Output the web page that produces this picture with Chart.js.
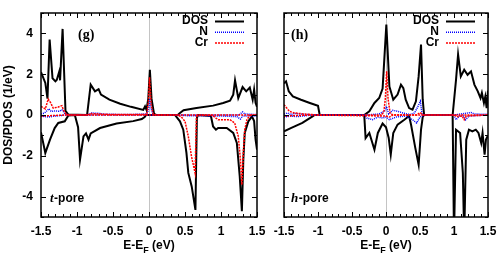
<!DOCTYPE html>
<html>
<head>
<meta charset="utf-8">
<script src="https://cdn.jsdelivr.net/npm/chart.js@4.4.0/dist/chart.umd.min.js"></script>
<style>
  body { margin: 0; background: #fff; }
  #wrap { position: relative; width: 498px; height: 264px; }
  canvas { position: absolute; top: 0; }
</style>
</head>
<body>
<div id="wrap">
  <canvas id="cg" width="276" height="264" style="left:0"></canvas>
  <canvas id="ch" width="236" height="264" style="left:262px"></canvas>
</div>
<script>
// tick labels
const xTicks = [-1.5, -1, -0.5, 0, 0.5, 1, 1.5];
const yTicks = [-4, -2, 0, 2, 4];

// (g) t-pore : [E-EF, DOS] pairs, spin up (positive) / spin down (negative)
const gDosUp = [[-1.5, 2.1], [-1.44, 1.57], [-1.41, 0.8], [-1.38, 3.7], [-1.34, 1.8], [-1.3, 1.65], [-1.28, 1.73],
  [-1.245, 2.15], [-1.235, 1.7], [-1.2, 4.22], [-1.16, 0.2], [-1.12, 0.02], [-0.86, 0], [-0.81, 1.49], [-0.75, 1.16],
  [-0.70, 1.27], [-0.667, 1.0], [-0.55, 0.75], [-0.4, 0.55], [-0.25, 0.4], [-0.08, 0.25], [-0.055, 0.42], [-0.035, 0.25],
  [-0.01, 0.8], [0.012, 2.22], [0.035, 0.8], [0.07, 0.05], [0.1, 0], [0.4, 0], [0.43, 0.1], [0.48, 0.23], [0.66, 0.34],
  [0.89, 0.46], [1.03, 0.59], [1.125, 0.7], [1.17, 1.0], [1.195, 1.7], [1.24, 0.83], [1.30, 1.37], [1.35, 1.16],
  [1.40, 1.35], [1.44, 0.75], [1.46, 1.24], [1.48, 0.6], [1.5, 0.4]];
const gDosDn = [[-1.5, -0.85], [-1.44, -1.86], [-1.375, -1.21], [-1.31, -0.64], [-1.26, -0.39], [-1.17, -0.31],
  [-1.12, -0.02], [-1.03, 0], [-0.985, -0.6], [-0.958, -2.19], [-0.91, -1.05], [-0.875, -0.9], [-0.84, -1.21],
  [-0.81, -0.9], [-0.68, -0.64], [-0.45, -0.42], [-0.22, -0.3], [-0.1, -0.2], [-0.06, -0.1], [-0.04, 0], [0.36, 0],
  [0.43, -0.31], [0.476, -0.72], [0.52, -1.86], [0.546, -2.84], [0.593, -3.5], [0.645, -4.65], [0.665, -0.15],
  [0.68, 0], [0.86, -0.05], [0.89, -0.56], [0.93, -0.72], [0.96, -0.64], [1.08, -0.64], [1.17, -0.88], [1.22, -1.37],
  [1.26, -3.0], [1.29, -4.72], [1.31, -2.19], [1.33, -0.88], [1.38, -0.31], [1.43, -0.07], [1.46, -0.3], [1.48, -1.2],
  [1.5, -1.7]];
const gNUp = [[-1.5, 0.05], [-1.45, 0.1], [-1.39, 0.3], [-1.36, 0.18], [-1.3, 0.2], [-1.25, 0.18], [-1.21, 0.25],
  [-1.17, 0.08], [-1.12, 0], [-0.86, 0], [-0.8, 0.1], [-0.7, 0.08], [-0.6, 0.04], [-0.3, 0.02], [-0.03, 0.05],
  [-0.005, 0.3], [0.012, 0.8], [0.03, 0.3], [0.06, 0], [1.25, 0], [1.3, 0.15], [1.33, 0.05], [1.5, 0.02]];
const gNDn = [[-1.5, -0.05], [-1.4, -0.1], [-1.3, -0.05], [-1.15, 0], [0.4, 0], [0.5, -0.03], [1.0, -0.05],
  [1.22, -0.08], [1.27, -0.2], [1.3, -0.05], [1.5, -0.05]];
const gCrUp = [[-1.5, 0.42], [-1.44, 0.3], [-1.4, 0.78], [-1.365, 0.59], [-1.33, 0.34], [-1.26, 0.39], [-1.21, 0.46],
  [-1.19, 0.26], [-1.15, 0.03], [-1.12, 0], [-0.86, 0], [-0.8, 0.07], [-0.7, 0.05], [-0.5, 0.02], [-0.03, 0.03],
  [-0.01, 0.6], [0.008, 1.85], [0.03, 0.5], [0.06, 0.02], [0.1, 0], [1.5, 0]];
const gCrDn = [[-1.5, -0.05], [-1.15, 0], [0.4, 0], [0.45, -0.1], [0.5, -0.31], [0.546, -1.05], [0.59, -2.03],
  [0.64, -2.84], [0.66, -0.1], [0.68, 0], [0.88, -0.02], [0.96, -0.23], [1.125, -0.23], [1.19, -0.39], [1.24, -1.05],
  [1.27, -2.19], [1.29, -3.42], [1.31, -1.86], [1.33, -0.72], [1.36, -0.23], [1.4, -0.02], [1.5, 0]];

// (h) h-pore
const hDosUp = [[-1.5, 1.55], [-1.47, 1.65], [-1.43, 1.16], [-1.37, 0.91], [-1.25, 0.75], [-1.12, 0.59], [-1.0, 0.45],
  [-0.975, 0], [-0.32, 0], [-0.245, 0.18], [-0.17, 0.59], [-0.1, 0.83], [-0.05, 1.3], [0.005, 4.43], [0.05, 1.4],
  [0.107, 0.75], [0.17, 1.0], [0.22, 1.49], [0.255, 1.32], [0.29, 0.75], [0.34, 0.34], [0.39, 0.26], [0.44, 0.67],
  [0.48, 1.89], [0.515, 3.45], [0.54, 0.75], [0.56, 0], [0.98, 0], [1.03, 1.73], [1.06, 2.96], [1.10, 1.89],
  [1.15, 2.22], [1.20, 1.97], [1.25, 2.14], [1.30, 1.49], [1.35, 1.16], [1.39, 0.83], [1.41, 1.08], [1.44, 0.59],
  [1.46, 0.9], [1.48, 0.34], [1.5, 1.2]];
const hDosDn = [[-1.5, -0.8], [-1.40, -0.64], [-1.23, -0.39], [-1.08, -0.07], [-1.05, 0], [-0.32, 0], [-0.30, -1.13],
  [-0.245, -0.88], [-0.17, -1.7], [-0.12, -0.88], [-0.05, -0.42], [0.0, -0.6], [0.04, -1.13], [0.07, -1.94],
  [0.107, -0.88], [0.17, -0.47], [0.27, -0.23], [0.34, -0.05], [0.37, -0.5], [0.43, -1.6], [0.48, -2.44],
  [0.515, -0.72], [0.54, -0.1], [0.56, 0], [0.98, 0], [1.0, -6], [1.03, -0.72], [1.09, -0.88], [1.13, -2.84],
  [1.15, -6], [1.18, -1.21], [1.22, -0.72], [1.27, -0.8], [1.32, -0.72], [1.36, -0.88], [1.40, -1.37], [1.42, -0.88],
  [1.45, -1.94], [1.47, -1.2], [1.5, -1.0]];
const hNUp = [[-1.5, 0.05], [-1.45, 0.1], [-1.4, 0.02], [-1.35, 0.08], [-1.2, 0.03], [-1.0, 0], [-0.3, 0], [-0.1, 0.05],
  [-0.02, 0.2], [0.005, 0.42], [0.04, 0.05], [0.1, 0.23], [0.17, 0.18], [0.25, 0.1], [0.35, 0.02], [0.42, 0.1],
  [0.47, 0.42], [0.505, 0.67], [0.53, 0.05], [0.56, 0], [1.0, 0], [1.1, 0.05], [1.25, 0.12], [1.3, 0.05], [1.5, 0.03]];
const hNDn = [[-1.5, -0.1], [-1.4, -0.05], [-1.3, -0.08], [-1.1, 0], [-0.32, 0], [-0.28, -0.15], [-0.2, -0.23],
  [-0.12, -0.1], [-0.05, -0.15], [0.0, -0.1], [0.05, -0.23], [0.15, -0.1], [0.3, -0.05], [0.39, -0.23], [0.45, -0.39],
  [0.5, -0.1], [0.56, 0], [1.0, 0], [1.03, -0.23], [1.08, -0.05], [1.14, -0.05], [1.17, -0.23], [1.22, -0.05], [1.5, 0]];
const hCrUp = [[-1.5, 0.5], [-1.46, 0.34], [-1.42, 0.18], [-1.35, 0.1], [-1.2, 0.05], [-1.0, 0], [-0.06, 0],
  [-0.03, 0.2], [-0.01, 0.8], [0.01, 2.14], [0.03, 0.8], [0.06, 0.1], [0.1, 0], [0.45, 0], [0.5, 0.12], [0.55, 0], [1.5, 0]];
const hCrDn = [[-1.5, -0.05], [-1.1, 0], [0.0, -0.05], [0.05, -0.1], [0.1, 0], [1.0, 0], [1.04, -0.08], [1.12, -0.05],
  [1.15, -0.23], [1.18, -0.05], [1.5, 0]];

const SANS = '"Liberation Sans", Arial, Helvetica, sans-serif';
const SERIF = '"Liberation Serif", "Times New Roman", serif';

const styles = {
  DOS: { color: '#000', width: 2, dash: [] },
  N: { color: '#0000ff', width: 1.5, dash: [1, 1] },
  Cr: { color: '#ff0000', width: 1.5, dash: [2, 1] }
};

function series(name, pts, order) {
  const s = styles[name];
  return {
    label: name,
    data: pts.map(p => ({ x: p[0], y: p[1] })),
    borderColor: s.color,
    borderWidth: s.width,
    borderDash: s.dash,
    pointRadius: 0,
    tension: 0,
    fill: false,
    order: order
  };
}

// frame, inward ticks, zero line, legend and texts
const framePlugin = {
  id: 'frame',
  beforeDatasetsDraw(chart) {
    const { ctx, chartArea: a, scales: { x } } = chart;
    const px = Math.round(x.getPixelForValue(0)) + 0.5;
    ctx.save();
    ctx.strokeStyle = '#c4c4c4';
    ctx.lineWidth = 1;
    ctx.beginPath();
    ctx.moveTo(px, a.top);
    ctx.lineTo(px, a.bottom);
    ctx.stroke();
    ctx.restore();
  },
  afterDraw(chart) {
    const { ctx, chartArea: a, scales: { x, y } } = chart;
    const o = chart.options.plugins.frame;
    ctx.save();
    ctx.strokeStyle = '#000';
    ctx.lineWidth = 1;
    ctx.beginPath();
    for (let i = -15; i <= 15; i++) {
      const p = Math.round(x.getPixelForValue(i / 10)) + 0.5;
      const len = i % 5 === 0 ? 5 : 3;
      ctx.moveTo(p, a.bottom); ctx.lineTo(p, a.bottom - len);
      ctx.moveTo(p, a.top); ctx.lineTo(p, a.top + len);
    }
    for (let v = -5; v <= 5; v++) {
      const p = Math.round(y.getPixelForValue(v)) + 0.5;
      const len = v % 2 === 0 ? 5 : 3;
      ctx.moveTo(a.left, p); ctx.lineTo(a.left + len, p);
      ctx.moveTo(a.right, p); ctx.lineTo(a.right - len, p);
    }
    ctx.stroke();
    ctx.lineWidth = 1.5;
    ctx.strokeRect(a.left, a.top, a.right - a.left, a.bottom - a.top);

    // legend
    ctx.font = 'bold 12px ' + SANS;
    ctx.textAlign = 'right';
    ctx.textBaseline = 'middle';
    ctx.fillStyle = '#000';
    ['DOS', 'N', 'Cr'].forEach((name, i) => {
      const s = styles[name];
      const ly = 21 + i * 10.8;
      ctx.fillText(name, a.right - 49, ly);
      ctx.save();
      ctx.strokeStyle = s.color;
      ctx.lineWidth = s.width;
      ctx.setLineDash(s.dash);
      ctx.beginPath();
      ctx.moveTo(a.right - 42, ly + 0.5);
      ctx.lineTo(a.right - 13, ly + 0.5);
      ctx.stroke();
      ctx.restore();
    });

    // panel letter
    ctx.textAlign = 'left';
    ctx.font = 'bold 14px ' + SERIF;
    ctx.fillText(o.letter, a.left + o.letterDx, 35);

    // pore label
    ctx.textBaseline = 'alphabetic';
    ctx.font = 'italic bold 13px ' + SERIF;
    ctx.fillText(o.pore, a.left + o.poreDx, 202);
    const w = ctx.measureText(o.pore).width;
    ctx.font = 'bold 12px ' + SANS;
    ctx.fillText('-pore', a.left + o.poreDx + w + 0.5, 202);

    // x title with subscript
    const cx = (a.left + a.right) / 2;
    ctx.font = 'bold 12px ' + SANS;
    const t1 = 'E-E', t3 = ' (eV)';
    const w1 = ctx.measureText(t1).width, w3 = ctx.measureText(t3).width;
    ctx.font = 'bold 9px ' + SANS;
    const w2 = ctx.measureText('F').width;
    let sx = cx - (w1 + w2 + w3) / 2;
    ctx.font = 'bold 12px ' + SANS;
    ctx.fillText(t1, sx, 249);
    ctx.font = 'bold 9px ' + SANS;
    ctx.fillText('F', sx + w1, 252.5);
    ctx.font = 'bold 12px ' + SANS;
    ctx.fillText(t3, sx + w1 + w2, 249);

    // y title
    if (o.yTitle) {
      ctx.save();
      ctx.translate(11.5, (a.top + a.bottom) / 2);
      ctx.rotate(-Math.PI / 2);
      ctx.textAlign = 'center';
      ctx.textBaseline = 'alphabetic';
      ctx.fillText(o.yTitle, 0, 0);
      ctx.restore();
    }
    ctx.restore();
  }
};

function makePanel(id, d, cfg) {
  const tickFont = { family: SANS, size: 12, weight: 'bold' };
  new Chart(document.getElementById(id), {
    type: 'line',
    data: {
      datasets: [
        series('Cr', d.crUp, 0), series('Cr', d.crDn, 0),
        series('N', d.nUp, 1), series('N', d.nDn, 1),
        series('DOS', d.dosUp, 2), series('DOS', d.dosDn, 2)
      ]
    },
    options: {
      responsive: false,
      animation: false,
      devicePixelRatio: 1,
      layout: { padding: { top: 13, right: cfg.padRight, left: 0, bottom: 0 } },
      plugins: {
        legend: { display: false },
        tooltip: { enabled: false },
        frame: cfg
      },
      scales: {
        x: {
          type: 'linear', min: -1.5, max: 1.5,
          grid: { display: false, drawTicks: false },
          border: { display: false },
          afterBuildTicks: s => { s.ticks = xTicks.map(v => ({ value: v })); },
          ticks: { font: tickFont, color: '#000', padding: 7, maxRotation: 0, autoSkip: false, callback: v => String(v) },
          afterFit: s => { s.height = 47; s.paddingLeft = 0; s.paddingRight = 0; }
        },
        y: {
          type: 'linear', min: -5, max: 5,
          grid: { display: false, drawTicks: false },
          border: { display: false },
          afterBuildTicks: s => { s.ticks = yTicks.map(v => ({ value: v })); },
          ticks: { display: cfg.yLabels, font: tickFont, color: '#000', padding: 8, callback: v => String(v) },
          afterFit: s => { s.width = cfg.yWidth; s.paddingTop = 0; s.paddingBottom = 0; }
        }
      }
    },
    plugins: [framePlugin]
  });
}

makePanel('cg',
  { dosUp: gDosUp, dosDn: gDosDn, nUp: gNUp, nDn: gNDn, crUp: gCrUp, crDn: gCrDn },
  { padRight: 19, yWidth: 41, yLabels: true, yTitle: 'DOS/PDOS (1/eV)', letter: '(g)', letterDx: 37, pore: 't', poreDx: 9 });
makePanel('ch',
  { dosUp: hDosUp, dosDn: hDosDn, nUp: hNUp, nDn: hNDn, crUp: hCrUp, crDn: hCrDn },
  { padRight: 10, yWidth: 22, yLabels: false, yTitle: null, letter: '(h)', letterDx: 7, pore: 'h', poreDx: 7 });
</script>
</body>
</html>
